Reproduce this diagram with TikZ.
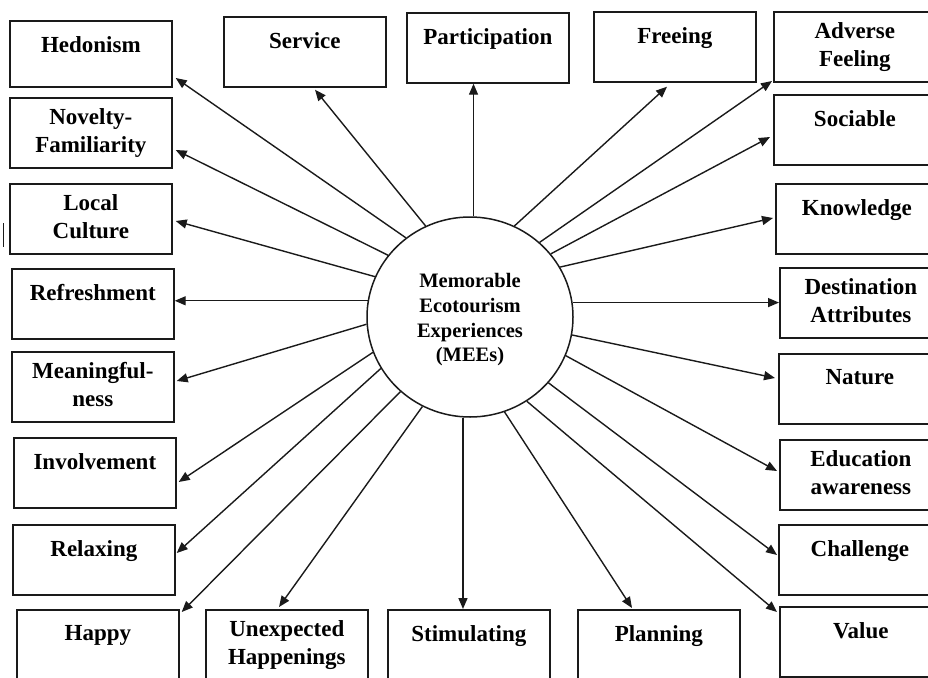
\documentclass[tikz,border=0pt]{standalone}
\usepackage{fontspec}
\setmainfont{Liberation Serif}
\usetikzlibrary{arrows.meta,shapes.geometric}
\definecolor{ink}{HTML}{1A1A1A}

% one outcome box: name, top-left corner, label offset, label, extra style
\newcommand\mmbox[5]{%
  \node[box,#5] (#1) at (#2) {};
  \node[lbl] (#1-t) at ([yshift=-#3pt]#1.north) {#4};
}

\begin{document}
\begin{tikzpicture}[x=1pt,y=-1pt,
  box/.style={draw=ink, line width=1.7pt, minimum width=162pt,
              minimum height=70pt, inner sep=0pt, anchor=north west},
  lbl/.style={font=\fontsize{23}{28}\selectfont\bfseries, align=center,
              inner sep=0pt, anchor=north, text=black},
  hub/.style={draw=ink, line width=1.5pt, ellipse, minimum width=206pt,
              minimum height=200pt, inner sep=0pt},
  link/.style={draw=ink, line width=1.4pt, -{Triangle[length=11pt,width=9pt]}},
]
\useasboundingbox (0,0) rectangle (928,677);
\clip (0,0) rectangle (928,677);

% left column
\mmbox{hed}{9,20}{16}{Hedonism}{minimum height=66pt}
\mmbox{nov}{9,97}{11}{Novelty-\\Familiarity}{}
\mmbox{loc}{9,183}{11}{Local\\Culture}{}
\mmbox{ref}{11,268}{16}{Refreshment}{}
\mmbox{mea}{11,351}{11}{Meaningful-\\ness}{}
\mmbox{inv}{13,437}{16}{Involvement}{}
\mmbox{rel}{12,524}{16}{Relaxing}{}
\mmbox{hap}{16,609}{16}{Happy}{}
% bottom row
\mmbox{unx}{205,609}{11}{Unexpected\\Happenings}{}
\mmbox{sti}{387,609}{16}{Stimulating}{}
\mmbox{pla}{577,609}{16}{Planning}{}
% right column
\mmbox{val}{779,606}{16}{Value}{}
\mmbox{cha}{778,524}{16}{Challenge}{}
\mmbox{edu}{779,439}{11}{Education\\awareness}{}
\mmbox{nat}{778,353}{16}{Nature}{}
\mmbox{des}{779,267}{11}{Destination\\Attributes}{}
\mmbox{kno}{775,183}{16}{Knowledge}{}
\mmbox{soc}{773,94}{16}{Sociable}{}
\mmbox{adv}{773,11}{11}{Adverse\\Feeling}{}
% top row
\mmbox{fre}{593,11}{16}{Freeing}{}
\mmbox{par}{406,12}{16}{Participation}{}
\mmbox{ser}{223,16}{16}{Service}{}

% central construct
\node[hub] (c) at (470,317) {};
\node[font=\fontsize{20.5}{24.7}\selectfont\bfseries, align=center, inner sep=0pt]
  (c-t) at (470,320) {Memorable\\Ecotourism\\Experiences\\(MEEs)};

% spokes
\draw[link] (c.129.1) -- ([shift={(3,58)}]hed.north east);
\draw[link] (c.116.6) -- ([shift={(92,2)}]ser.south west);
\draw[link] (c.143.7) -- ([shift={(3,53)}]nov.north east);
\draw[link] (c.157.6) -- ([shift={(3,38)}]loc.north east);
\draw[link] (c.171.1) -- (c.171.1 -| ref.east);
\draw[link] (c.184.5) -- ([shift={(2,30)}]mea.north east);
\draw[link] (c.200.4) -- ([shift={(2,45)}]inv.north east);
\draw[link] (c.210.5) -- ([shift={(1,29)}]rel.north east);
\draw[link] (c.227) -- ([shift={(2,3)}]hap.north east);
\draw[link] (c.242.4) -- ([shift={(74,-2)}]unx.north west);
\draw[link] (c.266) -- (c.266 |- sti.north);
\draw[link] (c.-70.9) -- ([shift={(55,-1)}]pla.north west);
\draw[link] (c.-56.2) -- ([shift={(-2,6)}]val.north west);
\draw[link] (c.-40.2) -- ([shift={(-1,31)}]cha.north west);
\draw[link] (c.-22.1) -- ([shift={(-2,32)}]edu.north west);
\draw[link] (c.-10.5) -- ([shift={(-3,25)}]nat.north west);
\draw[link] (c.8.5) -- (c.8.5 -| des.west);
\draw[link] (c.29) -- ([shift={(-2,35)}]kno.north west);
\draw[link] (c.38.4) -- ([shift={(-3,43)}]soc.north west);
\draw[link] (c.47) -- ([shift={(-1,70)}]adv.north west);
\draw[link] (c.64) -- ([shift={(74,4)}]fre.south west);
\draw[link] (c.88.3) -- (c.88.3 |- par.south);

% stray margin mark
\draw[ink, line width=1pt] (3,223) -- (3,247);
\end{tikzpicture}
\end{document}
